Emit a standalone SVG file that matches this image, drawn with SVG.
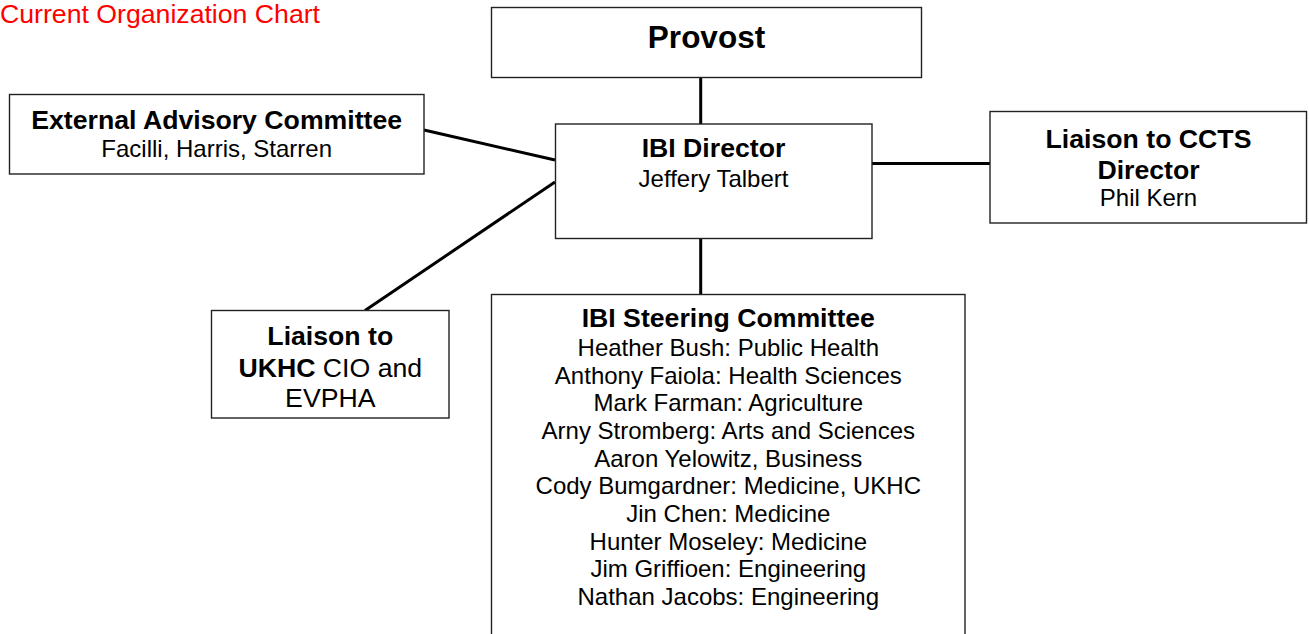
<svg xmlns="http://www.w3.org/2000/svg" width="1309" height="634" viewBox="0 0 1309 634">
<style>
text{font-family:"Liberation Sans",Arial,sans-serif;fill:#000;text-anchor:middle}
.b{font-weight:bold;font-size:26.67px}
.r{font-size:24px}
.r2{font-size:26.67px}
.box{fill:#fff;stroke:#222;stroke-width:1.4}
.con{stroke:#000;stroke-width:3;fill:none}
</style>
<rect width="1309" height="634" fill="#fff"/>
<text x="0" y="22.5" style="text-anchor:start;fill:#ff0000;font-size:26.67px">Current Organization Chart</text>
<g id="connectors">
<line class="con" x1="700.7" y1="78" x2="700.7" y2="124"/>
<line class="con" x1="700.7" y1="238.7" x2="700.7" y2="294.5"/>
<line class="con" x1="424" y1="130" x2="555" y2="160"/>
<line class="con" x1="555" y1="182" x2="365" y2="310.5"/>
<line class="con" x1="872" y1="163.5" x2="990" y2="163.5"/>
</g>
<g id="provost">
<rect class="box" x="491.5" y="7.5" width="430" height="70"/>
<text x="706.5" y="48.3" style="font-weight:bold;font-size:31.5px">Provost</text>
</g>
<g id="director">
<rect class="box" x="555.5" y="124" width="316.5" height="114.5"/>
<text class="b" x="713.5" y="156.7">IBI Director</text>
<text class="r" x="713.5" y="186.7">Jeffery Talbert</text>
</g>
<g id="external">
<rect class="box" x="9.5" y="94.5" width="414.5" height="79.5"/>
<text class="b" x="216.7" y="129.3">External Advisory Committee</text>
<text class="r" x="216.7" y="157.3">Facilli, Harris, Starren</text>
</g>
<g id="ccts">
<rect class="box" x="990" y="111.5" width="316.5" height="111.5"/>
<text class="b" x="1148.5" y="148">Liaison to CCTS</text>
<text class="b" x="1148.5" y="179">Director</text>
<text class="r" x="1148.5" y="206">Phil Kern</text>
</g>
<g id="ukhc">
<rect class="box" x="211.5" y="310.5" width="237.5" height="107.5"/>
<text class="b" x="330.3" y="345">Liaison to</text>
<text class="r2" x="330.3" y="377"><tspan font-weight="bold">UKHC</tspan> CIO and</text>
<text class="r2" x="330.3" y="406.5">EVPHA</text>
</g>
<g id="steering">
<rect class="box" x="491.5" y="294.5" width="473.5" height="345"/>
<text class="b" x="728.3" y="327.3">IBI Steering Committee</text>
<text class="r" x="728.3" y="356">Heather Bush: Public Health</text>
<text class="r" x="728.3" y="383.7">Anthony Faiola: Health Sciences</text>
<text class="r" x="728.3" y="411.3">Mark Farman: Agriculture</text>
<text class="r" x="728.3" y="439">Arny Stromberg: Arts and Sciences</text>
<text class="r" x="728.3" y="466.7">Aaron Yelowitz, Business</text>
<text class="r" x="728.3" y="494.3">Cody Bumgardner: Medicine, UKHC</text>
<text class="r" x="728.3" y="522">Jin Chen: Medicine</text>
<text class="r" x="728.3" y="549.7">Hunter Moseley: Medicine</text>
<text class="r" x="728.3" y="577.3">Jim Griffioen: Engineering</text>
<text class="r" x="728.3" y="605">Nathan Jacobs: Engineering</text>
</g>
</svg>
